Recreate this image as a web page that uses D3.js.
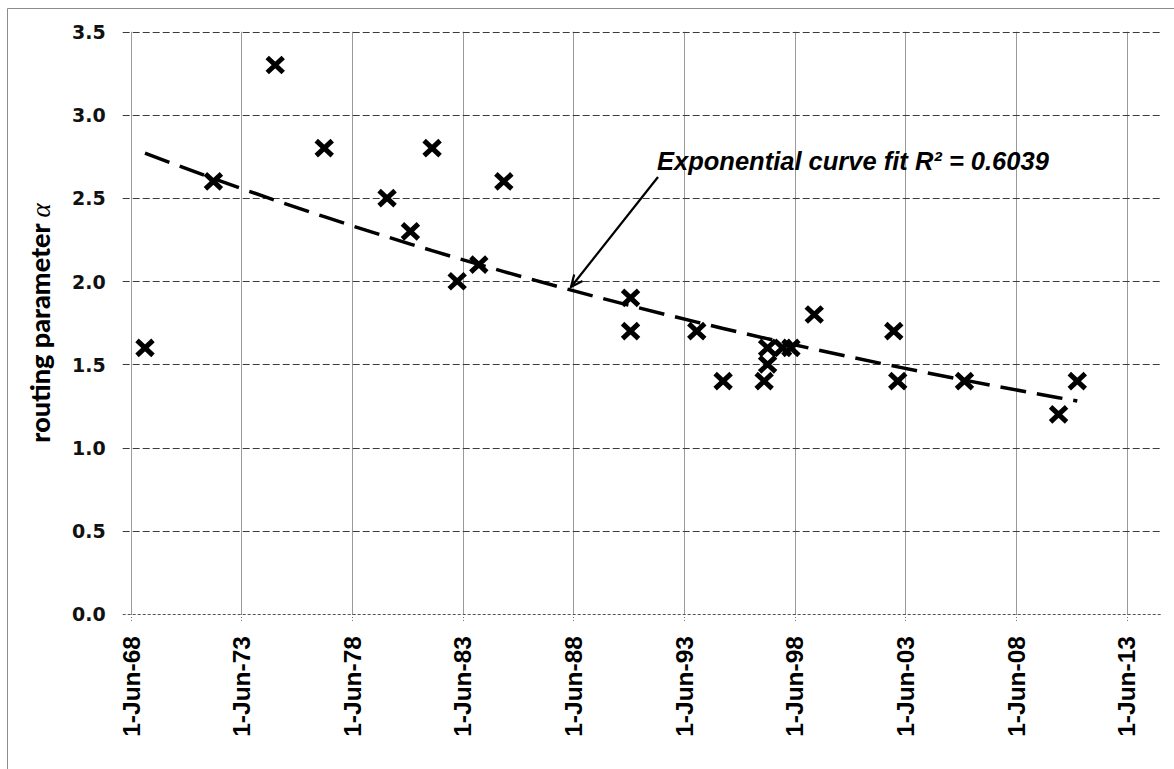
<!DOCTYPE html>
<html>
<head>
<meta charset="utf-8">
<script src="https://cdn.jsdelivr.net/npm/d3@7"></script>
<style>
  body { margin: 0; background: #fff; }
</style>
</head>
<body>
<div id="chart"></div>
<script>

    const obsDates = ["1969-01-23","1972-02-26","1974-12-12","1977-02-28","1980-01-01",
        "1981-01-20","1982-01-13","1983-03-03","1984-02-23","1985-04-11",
        "1991-01-01","1991-01-01","1993-12-29","1995-03-09","1997-01-14",
        "1997-03-12","1997-03-12","1997-11-15","1998-04-01","1999-04-21",
        "2002-11-23","2003-01-28","2006-02-02","2010-05-05","2011-03-10"];
    const alphaValues = [1.6, 2.6, 3.3, 2.8, 2.5,
        2.3, 2.8, 2.0, 2.1, 2.6,
        1.9, 1.7, 1.7, 1.4, 1.4,
        1.5, 1.6, 1.6, 1.6, 1.8,
        1.7, 1.4, 1.4, 1.2, 1.4];
    const xTickYears = [1968, 1973, 1978, 1983, 1988, 1993, 1998, 2003, 2008, 2013];
    const yTicks = [0, 0.5, 1.0, 1.5, 2.0, 2.5, 3.0, 3.5];
    const fitLabel = "Exponential curve fit R\u00b2 = 0.6039";

    function create_scatter(targetElementId){
        const width = 1174, height = 769;
        const left = 130.7, right = 1161.7, top = 31.7, bottom = 614;

        const parse = d3.timeParse("%Y-%m-%d");
        const data = obsDates.map((d, i) => ({date: parse(d), value: alphaValues[i]}));

        const svg = d3.select(`#${targetElementId}`).append("svg")
            .attr("width", width)
            .attr("height", height);

        // chart frame (only top and left edges show)
        svg.append("path")
            .attr("d", `M7.5,${height} V8.5 H${width}`)
            .attr("fill", "none")
            .attr("stroke", "#8c8c8c")
            .attr("stroke-width", 1);

        const x = d3.scaleTime()
            .domain([new Date(1968, 5, 1), new Date(2015, 0, 1)])
            .range([left, right]);

        const y = d3.scaleLinear()
            .domain([0, 3.5])
            .range([bottom, top]);

        const xTicks = xTickYears.map(yr => new Date(yr, 5, 1));

        // vertical gridlines
        svg.selectAll(".vertline")
            .data(xTicks)
            .enter()
            .append("line")
                .attr("x1", d => Math.round(x(d)) + 0.5)
                .attr("x2", d => Math.round(x(d)) + 0.5)
                .attr("y1", top)
                .attr("y2", bottom)
                .attr("stroke", "#9a9a9a")
                .attr("stroke-width", 1);

        // small tick marks below x axis
        svg.selectAll(".xtick")
            .data(xTicks)
            .enter()
            .append("line")
                .attr("x1", d => Math.round(x(d)) + 0.5)
                .attr("x2", d => Math.round(x(d)) + 0.5)
                .attr("y1", bottom)
                .attr("y2", bottom + 7)
                .attr("stroke", "#777")
                .attr("stroke-dasharray", "1,2")
                .attr("stroke-width", 1);

        // horizontal dashed gridlines (start at the y tick marks)
        svg.selectAll(".horizLine")
            .data(yTicks)
            .enter()
            .append("line")
                .attr("x1", left - 8)
                .attr("x2", right)
                .attr("y1", d => Math.round(y(d)) + 0.5)
                .attr("y2", d => Math.round(y(d)) + 0.5)
                .attr("stroke", d => d === 0 ? "#555" : "#3c3c3c")
                .attr("stroke-dasharray", d => d === 0 ? "3,2" : "7,3")
                .attr("stroke-width", 1);

        // y axis labels
        svg.append("g")
            .attr("transform", `translate(${left - 25},0)`)
            .call(d3.axisLeft(y).tickValues(yTicks).tickFormat(d3.format(".1f")).tickSize(0))
            .call(g => g.select(".domain").remove())
            .call(g => g.selectAll("text")
                .attr("x", 0)
                .attr("dy", "0.36em")
                .attr("fill", "#111")
                .style("font-family", "'DejaVu Sans', sans-serif")
                .style("font-weight", "bold")
                .style("font-size", "19px"));

        // x axis labels, rotated
        svg.selectAll(".xlabel")
            .data(xTicks)
            .enter()
            .append("text")
                .attr("transform", d => `translate(${x(d)},${bottom + 22}) rotate(-90)`)
                .attr("text-anchor", "end")
                .attr("dy", "0.36em")
                .style("font-family", "'Liberation Sans', Arial, sans-serif")
                .style("font-weight", "bold")
                .style("font-size", "24.5px")
                .attr("fill", "#000")
                .text(d3.timeFormat("%-d-%b-%y"));

        // y axis title
        const title = svg.append("text")
            .attr("transform", `translate(50,323) rotate(-90)`)
            .attr("text-anchor", "middle")
            .attr("fill", "#000")
            .style("font-size", "27px");
        title.append("tspan")
            .style("font-family", "Lato, 'Open Sans', sans-serif")
            .style("font-weight", "900")
            .text("routing parameter ");
        title.append("tspan")
            .style("font-family", "'Liberation Serif', 'DejaVu Serif', serif")
            .style("font-style", "italic")
            .text("\u03b1");

        // exponential fit y = a*exp(b*t), least squares on ln(y), t in days
        const t0 = data[0].date.getTime();
        const ts = data.map(d => (d.date.getTime() - t0) / 864e5);
        const ls = data.map(d => Math.log(d.value));
        const mt = d3.mean(ts), ml = d3.mean(ls);
        const b = d3.sum(ts, (t, i) => (t - mt) * (ls[i] - ml)) / d3.sum(ts, t => (t - mt) ** 2);
        const a = Math.exp(ml - b * mt);
        const fitLine = data.map((d, i) => ({date: d.date, value: a * Math.exp(b * ts[i])}));

        const line = d3.line()
            .x(d => x(d.date))
            .y(d => y(d.value))
            .curve(d3.curveMonotoneX);

        svg.append("path")
            .datum(fitLine)
            .attr("fill", "none")
            .attr("stroke", "#000")
            .attr("stroke-width", 3.5)
            .attr("stroke-dasharray", "26,11")
            .attr("d", line);

        // x markers
        svg.selectAll(".marker")
            .data(data)
            .enter()
            .append("path")
                .attr("transform", d => `translate(${x(d.date)},${y(d.value)})`)
                .attr("d", "M-8,-7.5 L8,7.5 M-8,7.5 L8,-7.5")
                .attr("fill", "none")
                .attr("stroke", "#000")
                .attr("stroke-width", 5);

        // annotation with arrow
        svg.append("text")
            .attr("x", 657)
            .attr("y", 170)
            .style("font-family", "'Liberation Sans', Arial, sans-serif")
            .style("font-weight", "bold")
            .style("font-style", "italic")
            .style("font-size", "25.5px")
            .attr("fill", "#000")
            .text(fitLabel);

        const ax0 = 658, ay0 = 177, ax1 = 571, ay1 = 287;
        const ang = Math.atan2(ay1 - ay0, ax1 - ax0);
        const hl = 13, hw = 0.42;
        svg.append("line")
            .attr("x1", ax0).attr("y1", ay0)
            .attr("x2", ax1).attr("y2", ay1)
            .attr("stroke", "#000")
            .attr("stroke-width", 2.2);
        svg.append("path")
            .attr("d", `M${ax1 - hl * Math.cos(ang - hw)},${ay1 - hl * Math.sin(ang - hw)}
                        L${ax1},${ay1}
                        L${ax1 - hl * Math.cos(ang + hw)},${ay1 - hl * Math.sin(ang + hw)}`)
            .attr("fill", "none")
            .attr("stroke", "#000")
            .attr("stroke-width", 2.2);
    }

    create_scatter("chart");

</script>
</body>
</html>
